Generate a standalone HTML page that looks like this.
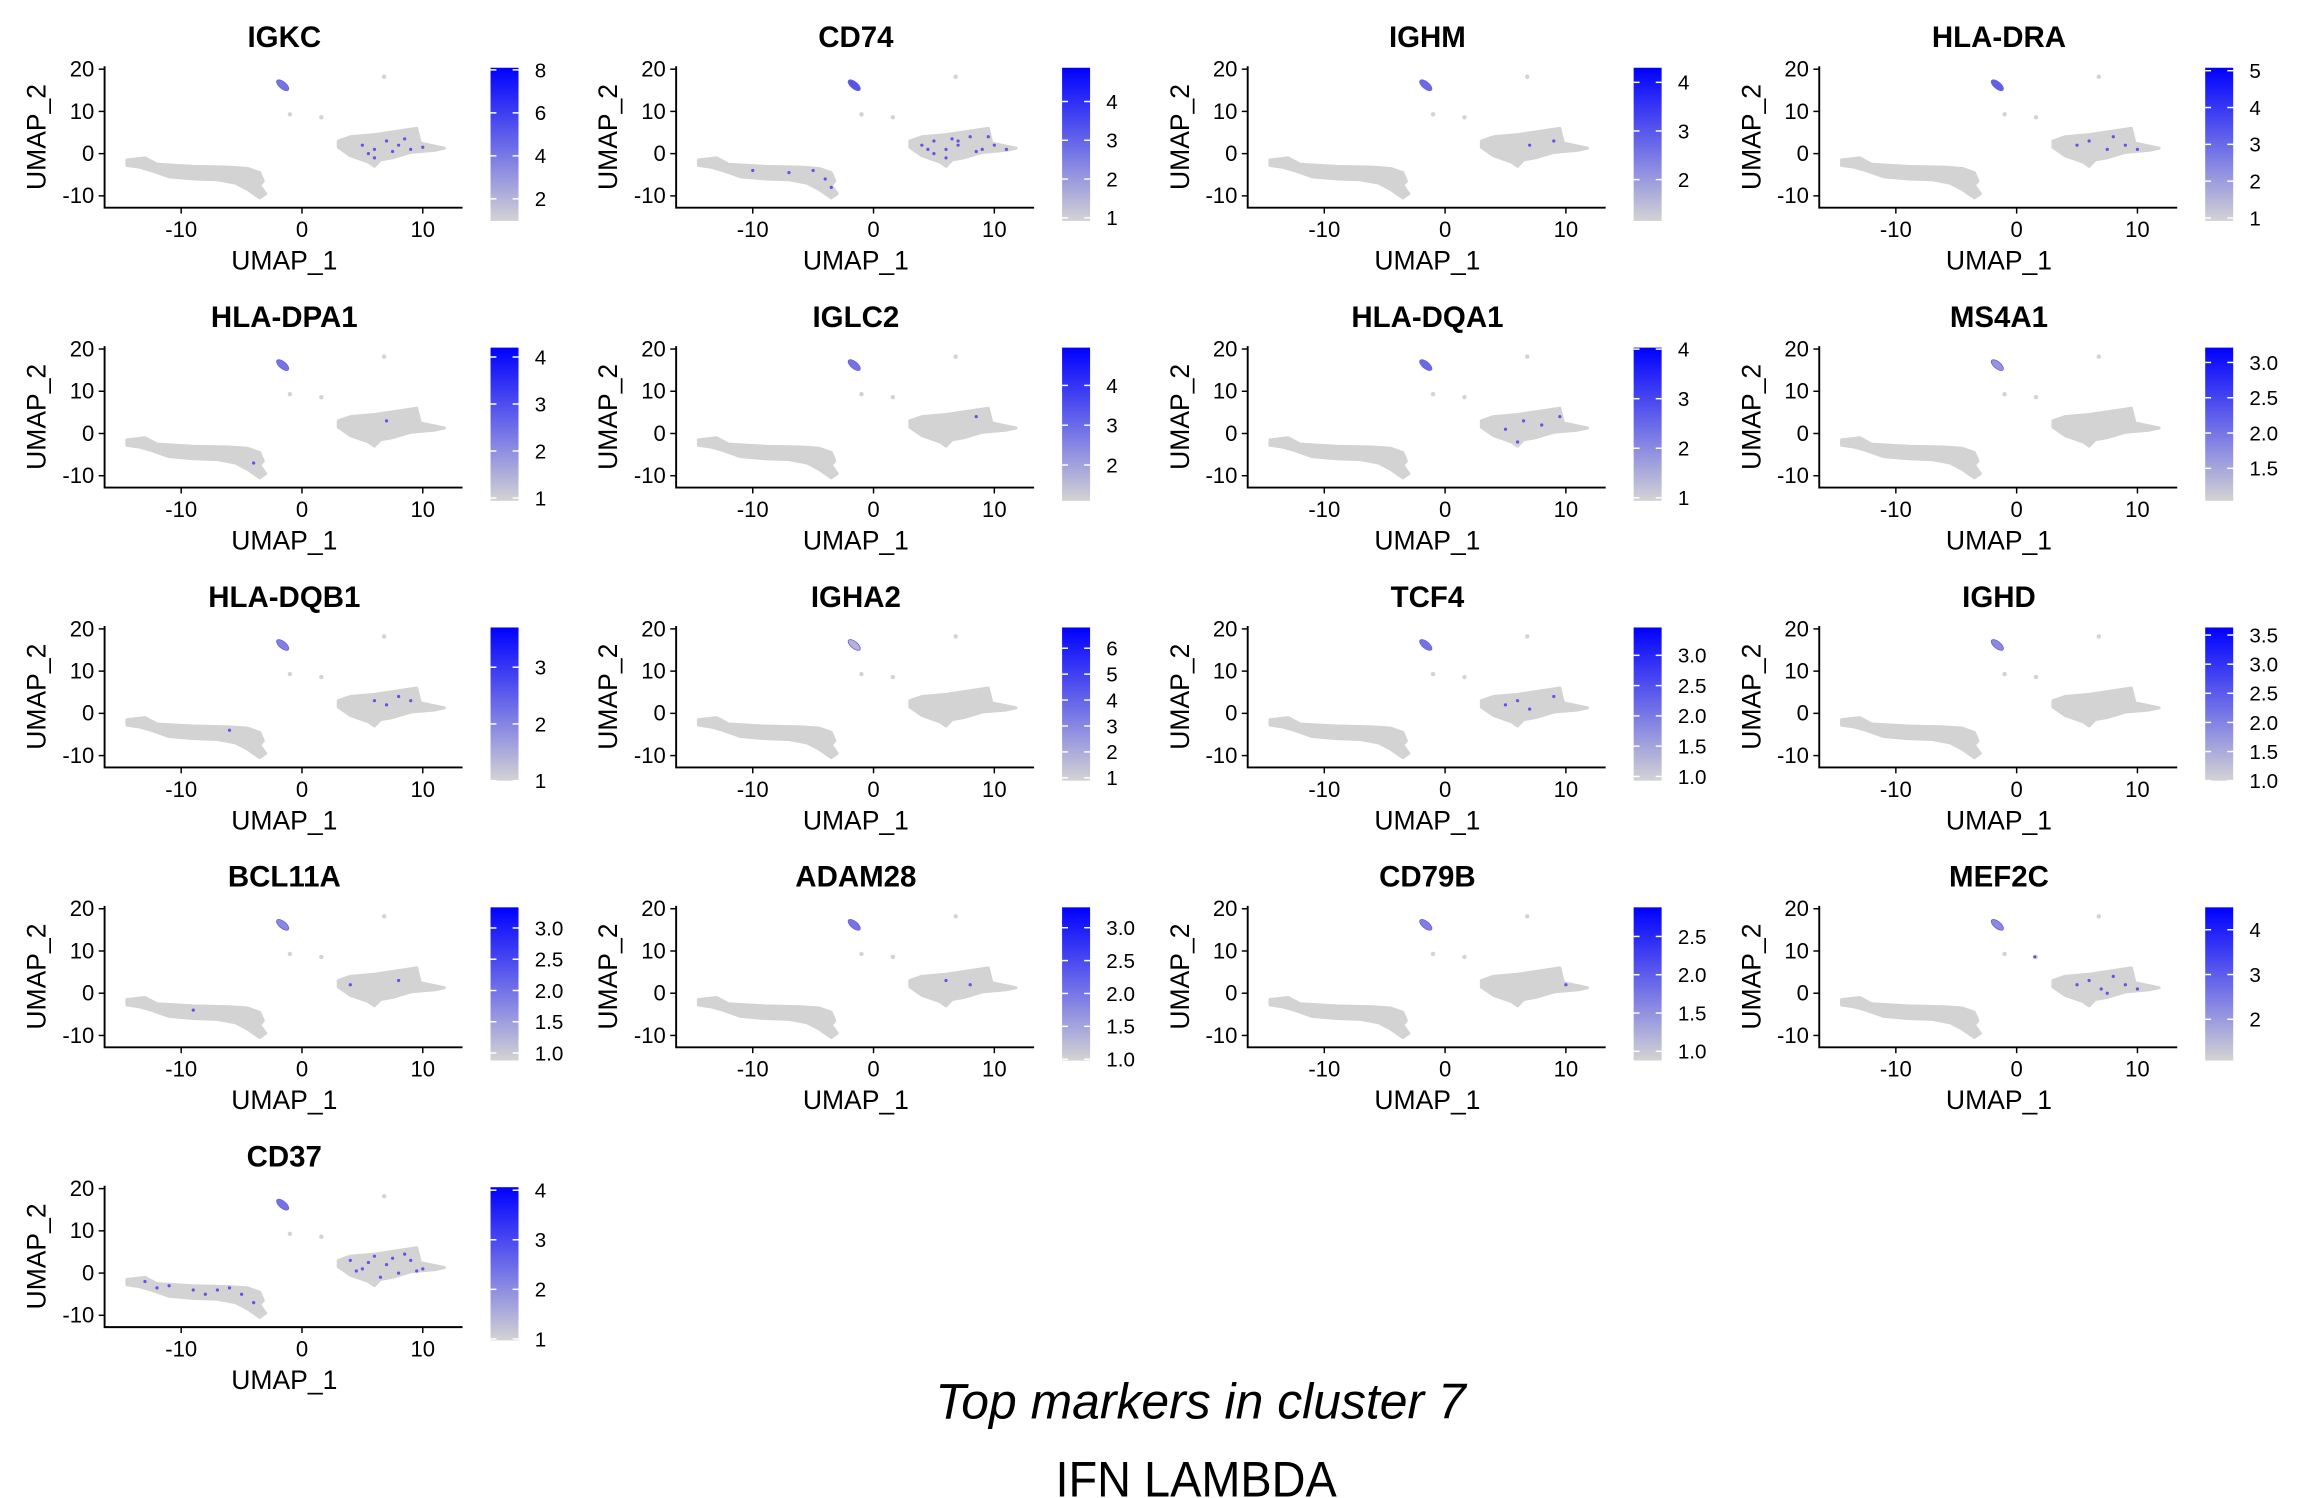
<!DOCTYPE html>
<html><head><meta charset="utf-8"><style>
html,body{margin:0;padding:0;background:#fff;overflow:hidden}
svg{display:block;font-family:"Liberation Sans",Arial,sans-serif}
</style></head><body>
<svg id="fig" xmlns="http://www.w3.org/2000/svg" width="2298" height="1498" viewBox="0 0 1560 1017" preserveAspectRatio="none">
<defs>
<linearGradient id="cg" x1="0" y1="1" x2="0" y2="0">
<stop offset="0" stop-color="#d3d3d3"/><stop offset="1" stop-color="#0000ff"/>
</linearGradient>
</defs>
<text x="815" y="963" text-anchor="middle" font-size="34" font-style="italic" textLength="360" lengthAdjust="spacingAndGlyphs">Top markers in cluster 7</text>
<text x="812" y="1016" text-anchor="middle" font-size="34" textLength="191" lengthAdjust="spacingAndGlyphs">IFN LAMBDA</text>
</svg>
<script>
const genes = ["IGKC","CD74","IGHM","HLA-DRA","HLA-DPA1","IGLC2","HLA-DQA1","MS4A1","HLA-DQB1","IGHA2","TCF4","IGHD","BCL11A","ADAM28","CD79B","MEF2C","CD37"];
const colorMin = [0.97,0.92,1.15,0.92,0.94,1.1,0.94,1.04,1.0,0.89,0.93,1.0,0.88,0.98,0.88,1.08,0.97];
const colorMax = [8.1,4.87,4.3,5.08,4.2,4.95,4.03,3.21,3.7,6.8,3.46,3.63,3.33,3.31,2.88,4.5,4.06];
const colorTicks = [[2,4,6,8],[1,2,3,4],[2,3,4],[1,2,3,4,5],[1,2,3,4],[2,3,4],[1,2,3,4],[1.5,2.0,2.5,3.0],[1,2,3],[1,2,3,4,5,6],[1.0,1.5,2.0,2.5,3.0],[1.0,1.5,2.0,2.5,3.0,3.5],[1.0,1.5,2.0,2.5,3.0],[1.0,1.5,2.0,2.5,3.0],[1.0,1.5,2.0,2.5],[2,3,4],[1,2,3,4]];
const tickDecimals = [0,0,0,0,0,0,0,1,0,0,1,1,1,1,1,0,0];
const xTicks = [-10,0,10];
const yTicks = [20,10,0,-10];
const leftBlob = [[-14.5,-1.5],[-13,-1],[-12,-2.5],[-9,-3],[-6,-3.2],[-4.5,-3.5],[-3.5,-4.5],[-3.2,-6.5],[-3.5,-7.5],[-3,-9.5],[-3.5,-10.5],[-4.5,-8.5],[-5.5,-7],[-7,-6.2],[-9,-6],[-11,-5.5],[-12.5,-4],[-13.5,-3.2],[-14.5,-2.8]];
const rightBlob = [[3,3],[4,4],[6,4.5],[9.5,6],[9.8,2.5],[11.8,1.3],[11,0.8],[9,0.3],[7.5,-1],[6.5,-1.5],[6,-3],[5.5,-2],[4,-0.5],[3,1.5]];
const smallDots = [[-1,9.3],[1.6,8.6],[6.8,18.2]];
const smallClusterCenter = [-1.6,16.2];
const clusterLevel = [0.45,0.6,0.5,0.55,0.45,0.45,0.5,0.3,0.4,0.15,0.45,0.35,0.35,0.45,0.4,0.35,0.45];
const hiCells = [
 [[5,2],[6,1],[7,3],[8,2],[9,1],[6,-1],[7.5,0.5],[8.5,3.5],[10,1.5],[5.5,0]],
 [[4,2],[5,3],[6,1],[7,2],[8,4],[9,1],[10,2],[6,-1],[5,0],[7,3],[8.5,0.5],[9.5,4],[11,1],[4.5,1],[6.5,3.5],[-5,-4],[-4,-6],[-3.5,-8],[-7,-4.5],[-10,-4]],
 [[7,2],[9,3]],
 [[5,2],[6,3],[7.5,1],[8,4],[9,2],[10,1]],
 [[-4,-7],[7,3]],
 [[8.5,4]],
 [[5,1],[6.5,3],[8,2],[9.5,4],[6,-2]],
 [],
 [[6,3],[7,2],[8,4],[9,3],[-6,-4]],
 [],
 [[5,2],[7,1],[9,4],[6,3]],
 [],
 [[-9,-4],[4,2],[8,3]],
 [[6,3],[8,2]],
 [[10,2]],
 [[1.5,8.6],[5,2],[6,3],[7,1],[8,4],[9,2],[10,1],[7.5,0]],
 [[-13,-2],[-11,-3],[-9,-4],[-7,-4],[-5,-5],[-4,-7],[-12,-3.5],[-8,-5],[-6,-3.5],[4,3],[5,1],[6,4],[7,2],[8,0],[9,3],[10,1],[6.5,-1],[5.5,2.5],[8.5,4.5],[7.5,3.5],[9.5,0.5],[4.5,0.5]]
];
const NS = "http://www.w3.org/2000/svg";
const svg = document.getElementById("fig");
function mk(tag, attrs, parent){const e=document.createElementNS(NS,tag);for(const k in attrs)e.setAttribute(k,attrs[k]);(parent||svg).appendChild(e);return e;}
function mixColor(t){t=Math.max(0,Math.min(1,t));const r=Math.round(211*(1-t)),g=Math.round(211*(1-t)),b=Math.round(211+(255-211)*t);return `rgb(${r},${g},${b})`;}
genes.forEach((gene,i)=>{
  const col=i%4,row=Math.floor(i/4);
  const ox=col*388,oy=row*190;
  const g=mk("g",{transform:`translate(${ox},${oy})`});
  
  
  const sx=v=>205+v*8.2, sy=v=>104.3-v*2.867;
  const t=mk("text",{x:193,y:32,"text-anchor":"middle","font-size":20,"font-weight":"bold"},g);t.textContent=gene;
  
  
  [leftBlob,rightBlob].forEach((poly,k)=>{
    const p=mk("polygon",{points:poly.map(q=>sx(q[0])+","+sy(q[1])).join(" "),fill:"#d3d3d3",stroke:"#d3d3d3","stroke-width":2,"stroke-linejoin":"round"},g);
    
    
  });
  smallDots.forEach(d=>{const c=mk("circle",{cx:sx(d[0]),cy:sy(d[1]),r:1.5,fill:"#d3d3d3"},g);
    
    });
  const e=mk("ellipse",{cx:sx(smallClusterCenter[0]),cy:sy(smallClusterCenter[1]),rx:5,ry:2.3,fill:mixColor(clusterLevel[i]),stroke:"#7060d8","stroke-width":0.6,transform:`rotate(40 ${sx(smallClusterCenter[0])} ${sy(smallClusterCenter[1])})`},g);
  
  
  hiCells[i].forEach(d=>{const c=mk("circle",{cx:sx(d[0]),cy:sy(d[1]),r:1.1,fill:"#6a50e8"},g);
    
    });
  const ax=mk("path",{d:`M71,45 V141 H314`,fill:"none",stroke:"#000","stroke-width":1.3},g);
  
  
  yTicks.forEach(v=>{mk("line",{x1:67,x2:71,y1:sy(v),y2:sy(v),stroke:"#000"},g);
    const l=mk("text",{x:64,y:sy(v)+5,"text-anchor":"end","font-size":15},g);l.textContent=v;
    
    });
  xTicks.forEach(v=>{mk("line",{x1:sx(v),x2:sx(v),y1:141,y2:145,stroke:"#000"},g);
    const l=mk("text",{x:sx(v),y:161,"text-anchor":"middle","font-size":15},g);l.textContent=v;
    
    });
  const xt=mk("text",{x:193,y:183,"text-anchor":"middle","font-size":18},g);xt.textContent="UMAP_1";
  
  
  const yt=mk("text",{x:0,y:0,"text-anchor":"middle","font-size":18,transform:"translate(31,93) rotate(-90)"},g);yt.textContent="UMAP_2";
  
  
  const cb=mk("rect",{x:333,y:46,width:19,height:104,fill:"url(#cg)"},g);
  
  
  const cy=v=>150-(v-colorMin[i])/(colorMax[i]-colorMin[i])*104;
  colorTicks[i].forEach(v=>{
    mk("line",{x1:333,x2:337,y1:cy(v),y2:cy(v),stroke:"#fff","stroke-width":1},g);
    mk("line",{x1:348,x2:352,y1:cy(v),y2:cy(v),stroke:"#fff","stroke-width":1},g);
    const l=mk("text",{x:363,y:cy(v)+5,"font-size":14},g);l.textContent=v.toFixed(tickDecimals[i]);
    
    
  });
});
</script>
</body></html>
